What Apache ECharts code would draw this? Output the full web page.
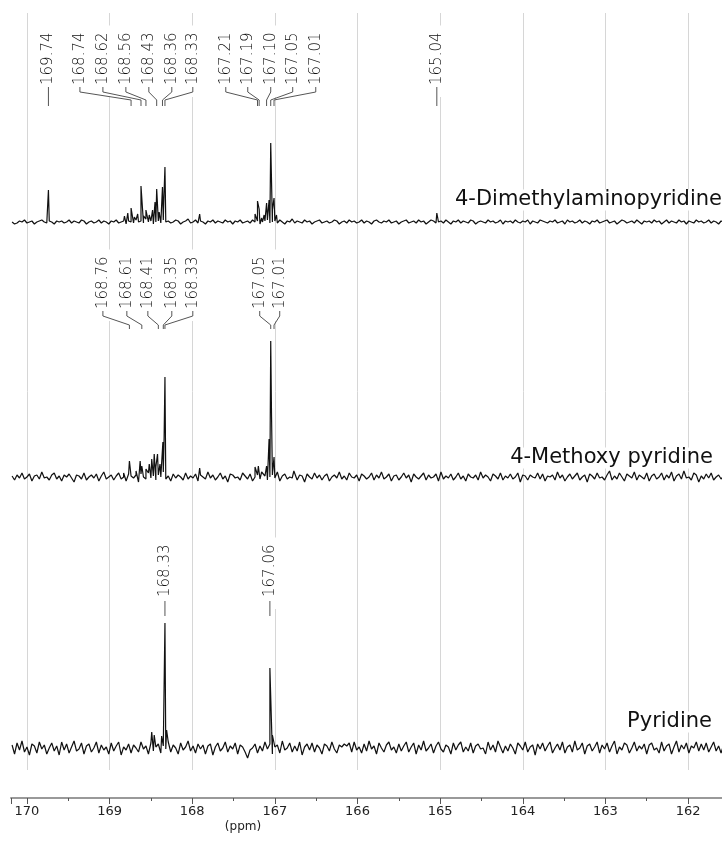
<!DOCTYPE html>
<html>
<head>
<meta charset="utf-8">
<script src="https://cdn.jsdelivr.net/npm/echarts@6/dist/echarts.min.js"></script>
<style>
html, body { margin: 0; padding: 0; background: #fff; }
#chart { width: 722px; height: 845px; }
</style>
</head>
<body>
<div id="chart"></div>
<script>
// spectra are sampled on a uniform ppm grid, high ppm first
var ppmStart = 170.18;
var ppmStep = 0.03;

// baseline noise (px-like intensity units)
var noiseDmap = [
  0,-2,-1,1,0,2,-1,0,1,-2,0,1,2,0,-1,1,0,-2,1,0,
  1,-1,0,2,-1,1,0,-1,2,1,-2,0,1,-1,0,2,-1,1,0,-2,
  1,0,2,-1,0,1,-2,1,0,-1,2,0,1,-1,3,0,1,-2,0,1,
  -1,2,0,1,-1,0,2,1,-2,0,1,3,-1,0,2,-1,1,0,-2,1,
  0,2,-1,1,0,-1,2,0,1,-2,1,0,2,-1,0,1,-1,2,0,1,
  -2,0,1,2,-1,0,1,-1,2,0,-2,1,0,3,-1,1,0,-1,2,0,
  1,-2,0,1,2,-1,0,1,-1,0,2,1,-2,0,1,-1,2,0,1,-1,
  0,2,-1,1,0,-2,1,2,0,-1,1,0,2,-1,0,1,-2,0,1,2,
  -1,0,1,-1,2,0,1,-2,0,2,1,-1,0,1,-1,2,0,-2,1,0,
  2,-1,1,0,-1,2,1,-2,0,1,0,-1,2,0,1,-1,0,2,-2,1,
  0,1,-1,2,0,-1,1,0,2,-2,1,0,-1,2,1,0,-1,1,0,2,
  -1,0,1,-2,2,0,1,-1,0,2,-1,1,0,-2,1,0,2,-1,0,1,
  2,-1,0,1,-2,0,2,1,-1,0,1,-1,2,0,-2,1,0,1,-1,2,
  0,1,-2,0,2,-1,1,0,-1,2,0,1,-2,1,0,-1,2,0,1,-1,
  0,2,-1,1,0,-2,1,0,2,-1,1,0
];
var noiseMethoxy = [
  1,-3,2,-1,4,-2,0,3,-4,1,2,-2,5,-1,0,-3,2,4,-2,1,
  -4,2,0,3,-1,-5,2,1,-2,4,-3,0,2,-1,3,-4,1,5,-2,0,
  2,-3,1,4,-2,0,-4,3,1,-1,2,-5,3,0,-2,4,-1,1,-3,2,
  0,5,-2,1,-4,3,-1,2,0,-3,4,-2,1,-1,3,-4,2,0,-2,5,
  -1,2,-3,0,4,-2,1,-5,3,2,-1,0,-3,4,1,-2,3,-4,0,2,
  -2,4,1,-3,0,2,-1,5,-4,1,3,-2,0,-1,4,-3,2,1,-5,3,
  0,-2,4,-1,2,-3,1,3,-4,0,2,-1,5,-2,1,-3,4,0,-1,2,
  -4,3,1,-2,0,4,-3,2,-1,5,-2,0,3,-4,1,2,-3,0,4,-1,
  2,-5,3,0,-2,1,4,-3,2,-1,0,3,-4,5,-2,1,-1,3,-3,0,
  4,-2,1,-4,3,0,-1,2,-3,5,-1,2,0,-4,3,1,-2,4,-3,1,
  -1,3,-2,0,4,-5,2,1,-3,2,0,-1,4,-2,3,-4,1,0,2,-3,
  5,-1,2,-4,0,3,-2,1,4,-3,0,2,-5,3,1,-2,4,-1,0,-3,
  2,6,-3,1,-2,4,0,-4,3,1,-1,5,-3,2,0,-2,4,-4,1,3,
  -2,0,4,-3,2,-1,5,-4,1,3,-2,6,-1,0,-3,4,2,-5,1,-2,
  3,-1,4,-3,0,2,-2,1,-3,2,0,4
];
var noisePyridine = [
  3,-6,5,-2,7,-4,1,-7,4,2,-5,6,-1,3,-6,0,5,-3,2,-7,
  6,-2,4,-5,1,7,-3,-1,5,-6,2,4,-4,0,6,-5,3,-2,1,-6,
  5,-3,2,6,-7,1,-2,4,-5,3,0,-4,6,-1,2,-6,5,-3,1,4,
  -5,2,-1,6,-4,3,0,-6,5,-2,1,7,-3,2,-5,4,-1,3,-6,2,
  4,-7,1,5,-3,0,6,-4,2,-1,5,-6,3,1,-4,-10,-2,0,4,-5,
  2,-3,6,-1,4,-6,1,3,-5,7,-2,0,5,-4,2,-3,6,-7,1,4,
  -2,5,-4,3,0,-6,4,2,-3,6,-1,-5,3,1,4,2,5,-4,6,-2,
  1,-5,4,-3,7,-1,2,-6,5,0,-4,3,6,-2,1,-5,4,-3,2,6,
  -4,1,5,-6,3,-2,7,-3,0,4,-5,2,6,-1,-4,3,1,-6,5,-2,
  3,6,-4,1,-3,5,-5,2,4,-1,0,-6,6,-2,3,-4,7,1,-5,2,
  -3,4,0,-6,5,2,-2,6,-4,1,3,-7,4,-1,5,-3,2,6,-5,0,
  4,-2,6,-5,1,3,-4,7,-2,0,5,-6,2,4,-3,1,6,-5,3,-1,
  5,-4,2,7,-6,1,-2,5,3,-5,0,6,-3,2,-1,4,-6,3,5,-2,
  0,-5,6,-3,2,4,-6,1,7,-4,3,-1,5,-5,2,0,6,-3,4,-2,
  5,-4,1,6,-3,2,-5,3,-2,4,0,-3
];

// peak tops [ppm, height above baseline]
var peaksDmap = [
  [169.74, 32], [168.82, 6], [168.78, 9], [168.74, 14], [168.70, 5], [168.66, 8],
  [168.62, 36], [168.59, 6], [168.56, 12], [168.52, 7], [168.48, 12], [168.45, 20],
  [168.43, 33], [168.40, 10], [168.36, 35], [168.345, 18], [168.33, 55], [167.91, 8],
  [167.24, 8], [167.21, 21], [167.19, 13], [167.16, 4], [167.13, 7], [167.10, 19],
  [167.07, 22], [167.05, 79], [167.03, 12], [167.01, 24], [166.98, 7], [165.04, 9]
];
var peaksMethoxy = [
  [168.83, 4], [168.76, 16], [168.72, 3], [168.68, 6], [168.63, 16], [168.61, 11],
  [168.56, 8], [168.52, 13], [168.49, 18], [168.46, 23], [168.44, 10], [168.42, 23],
  [168.39, 13], [168.355, 35], [168.34, 40], [168.33, 100], [167.95, 5], [167.91, 9],
  [167.24, 10], [167.20, 11], [167.16, 5], [167.10, 11], [167.07, 38], [167.05, 136],
  [167.04, 60], [167.01, 20], [166.77, 6]
];
var peaksPyridine = [
  [168.49, 16], [168.46, 13], [168.37, 12], [168.33, 125], [168.31, 18],
  [167.06, 80], [167.03, 13]
];

var traceNames = ['4-Dimethylaminopyridine', '4-Methoxy pyridine', 'Pyridine'];
var traceOffsets = [548, 293, 22];

// peak pick labels and where each label text sits along the axis
var labelsDmap = [169.74, 168.74, 168.62, 168.56, 168.43, 168.36, 168.33, 167.21, 167.19, 167.10, 167.05, 167.01, 165.04];
var slotsDmap = [169.74, 169.359, 169.081, 168.803, 168.525, 168.247, 167.993, 167.594, 167.328, 167.050, 166.784, 166.505, 165.04];
var labelsMethoxy = [168.76, 168.61, 168.41, 168.35, 168.33, 167.05, 167.01];
var slotsMethoxy = [169.081, 168.791, 168.537, 168.247, 167.993, 167.183, 166.941];
var labelsPyridine = [168.33, 167.06];
var slotsPyridine = [168.33, 167.06];

// [text bottom, leader y1, bend1, bend2, end]
var bands = [
  [85, 87, 92, 100, 106],
  [309, 311, 316, 325, 329],
  [597, 601, 601, 601, 616]
];

function buildTrace(noise, peaks, offset) {
  var pts = noise.map(function (v, i) {
    return [+(ppmStart - i * ppmStep).toFixed(3), v + offset];
  });
  peaks.forEach(function (p) { pts.push([p[0], p[1] + offset]); });
  pts.sort(function (a, b) { return b[0] - a[0]; });
  return pts;
}

var annoData = [];
[[labelsDmap, slotsDmap], [labelsMethoxy, slotsMethoxy], [labelsPyridine, slotsPyridine]].forEach(function (g, b) {
  g[0].forEach(function (v, i) { annoData.push([v, g[1][i], b]); });
});

var padBottom = 12;
function renderLabel(params, api) {
  var band = bands[api.value(2)];
  var peakX = api.coord([api.value(0), 0])[0];
  var slotX = api.coord([api.value(1), 0])[0];
  return {
    type: 'group',
    children: [{
      type: 'text',
      x: slotX,
      y: band[0] + padBottom,
      rotation: Math.PI / 2,
      z2: 1,
      style: {
        text: api.value(0).toFixed(2),
        x: 0, y: 0,
        align: 'left',
        verticalAlign: 'middle',
        font: '200 15px "DejaVu Sans"',
        fill: '#111',
        backgroundColor: '#fff',
        padding: [1, 7, 1, padBottom]
      }
    }, {
      type: 'polyline',
      z2: 20,
      shape: { points: [[slotX, band[1]], [slotX, band[2]], [peakX, band[3]], [peakX, band[4]]] },
      style: { stroke: '#555', lineWidth: 1, fill: null }
    }]
  };
}

var dom = document.getElementById('chart');
var chart = echarts.init(dom);

var lineSeries = [
  [noiseDmap, peaksDmap],
  [noiseMethoxy, peaksMethoxy],
  [noisePyridine, peaksPyridine]
].map(function (t, k) {
  return {
    name: traceNames[k],
    type: 'line',
    data: buildTrace(t[0], t[1], traceOffsets[k]),
    showSymbol: false,
    lineStyle: { color: '#111', width: 1.2 },
    z: 2
  };
});

var nameFont = '21px "DejaVu Sans"';
var ppmMin = 161.589, ppmMax = 170.193;

option = {
  animation: false,
  grid: [
    { left: 11, right: 0, top: 13, bottom: 75 },
    { left: 11, right: 0, top: 797, bottom: 47 }
  ],
  xAxis: [{
    type: 'value',
    gridIndex: 0,
    inverse: true,
    min: ppmMin,
    max: ppmMax,
    splitNumber: 9,
    axisLine: { show: false },
    axisTick: { show: false },
    axisLabel: { show: false },
    splitLine: {
      show: true,
      showMinLine: false,
      showMaxLine: false,
      lineStyle: { color: '#d6d6d6', width: 1 }
    }
  }, {
    type: 'value',
    gridIndex: 1,
    inverse: true,
    min: ppmMin,
    max: ppmMax,
    splitNumber: 9,
    axisLine: { lineStyle: { color: '#999', width: 2 } },
    axisTick: { length: 6, lineStyle: { color: '#555' } },
    minorTick: { show: true, splitNumber: 2, length: 3, lineStyle: { color: '#555' } },
    axisLabel: {
      showMinLabel: false,
      showMaxLabel: false,
      margin: 7,
      color: '#222',
      fontFamily: 'DejaVu Sans',
      fontSize: 13
    },
    splitLine: { show: false }
  }],
  yAxis: [
    { type: 'value', gridIndex: 0, min: 0, max: 757, show: false },
    { type: 'value', gridIndex: 1, min: 0, max: 1, show: false }
  ],
  series: lineSeries.concat([{
    type: 'custom',
    data: annoData,
    encode: { x: 0, y: 1 },
    renderItem: renderLabel,
    z: 5
  }]),
  graphic: [
    { type: 'text', x: 722, y: 200, z: 10, style: { text: traceNames[0], align: 'right', verticalAlign: 'middle', font: nameFont, fill: '#111', backgroundColor: '#fff' } },
    { type: 'text', x: 713, y: 458, z: 10, style: { text: traceNames[1], align: 'right', verticalAlign: 'middle', font: nameFont, fill: '#111', backgroundColor: '#fff' } },
    { type: 'text', x: 712, y: 722, z: 10, style: { text: traceNames[2], align: 'right', verticalAlign: 'middle', font: nameFont, fill: '#111', backgroundColor: '#fff' } },
    { type: 'text', x: 243, y: 827, style: { text: '(ppm)', align: 'center', verticalAlign: 'middle', font: '12px "DejaVu Sans"', fill: '#222' } }
  ]
};

chart.setOption(option, true);
</script>
</body>
</html>
